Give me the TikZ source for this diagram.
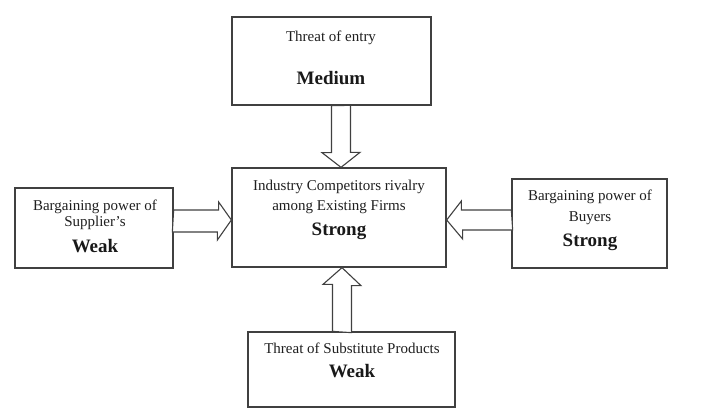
\documentclass[tikz,border=0pt]{standalone}
\usepackage{fontspec}
\setmainfont{Liberation Serif}
\begin{document}
\begin{tikzpicture}[x=1pt,y=-1pt,
  box/.style={draw=black!75,line width=1.3pt,fill=white,inner sep=0pt},
  txt/.style={inner sep=0pt,text=black!88,font=\fontsize{15}{17}\selectfont,text height=10pt,text depth=3pt},
  big/.style={inner sep=0pt,text=black!90,font=\bfseries\fontsize{19}{21}\selectfont,text height=12.5pt,text depth=4pt},
  barrow/.style={draw=black!75,line width=1.1pt,fill=white,line join=miter}]
\useasboundingbox (0,0) rectangle (708,410);
% boxes
\node[box,minimum width=199pt,minimum height=88pt] (top) at (331.5,61) {};
\node[box,minimum width=214pt,minimum height=99pt] (mid) at (339,217.5) {};
\node[box,minimum width=158pt,minimum height=80pt] (lft) at (94,228) {};
\node[box,minimum width=155pt,minimum height=89pt] (rgt) at (589.5,223.5) {};
\node[box,minimum width=207pt,minimum height=75pt] (bot) at (351.5,369.5) {};
% texts
\node[txt] (t1) at (331,38) {Threat of entry};
\node[big] (t2) at (331,80) {Medium};
\node[txt] (m1) at (339,187) {Industry Competitors rivalry};
\node[txt] (m2) at (339,207) {among Existing Firms};
\node[big] (m3) at (339,231) {Strong};
\node[txt] (l1) at (95,207) {Bargaining power of};
\node[txt] (l2) at (95,223) {Supplier’s};
\node[big] (l3) at (95,248) {Weak};
\node[txt] (r1) at (590,197) {Bargaining power of};
\node[txt] (r2) at (590,218) {Buyers};
\node[big] (r3) at (590,242) {Strong};
\node[txt] (b1) at (352,350) {Threat of Substitute Products};
\node[big] (b2) at (352,373) {Weak};
% arrow tips
\coordinate (tipT) at ([xshift=2pt]mid.north);
\coordinate (tipB) at ([xshift=3pt]mid.south);
\coordinate (tipL) at ([yshift=-2.5pt]mid.west);
\coordinate (tipR) at ([yshift=-2.5pt]mid.east);
% top arrow (down)
\draw[barrow] (tipT |- top.south) ++(-9.5,0) -- ++(0,47) -- ++(-9.5,0) -- (tipT)
  -- ++(19,-15) -- ++(-9.5,0) -- ++(0,-47) -- cycle;
% bottom arrow (up)
\draw[barrow] (tipB |- bot.north) ++(-9.5,0) -- ++(0,-47) -- ++(-9.5,0) -- (tipB)
  -- ++(19,18) -- ++(-9.5,0) -- ++(0,47) -- cycle;
% left arrow (right)
\draw[barrow] (tipL -| lft.east) ++(0,-10) -- ++(45,0) -- ++(0,-8) -- (tipL)
  -- ++(-14,20) -- ++(0,-8) -- ++(-45,0) -- cycle;
% right arrow (left)
\draw[barrow] (tipR -| rgt.west) ++(0,-10) -- ++(-50,0) -- ++(0,-9) -- (tipR)
  -- ++(16,19) -- ++(0,-9) -- ++(50,0) -- cycle;
\end{tikzpicture}
\end{document}
